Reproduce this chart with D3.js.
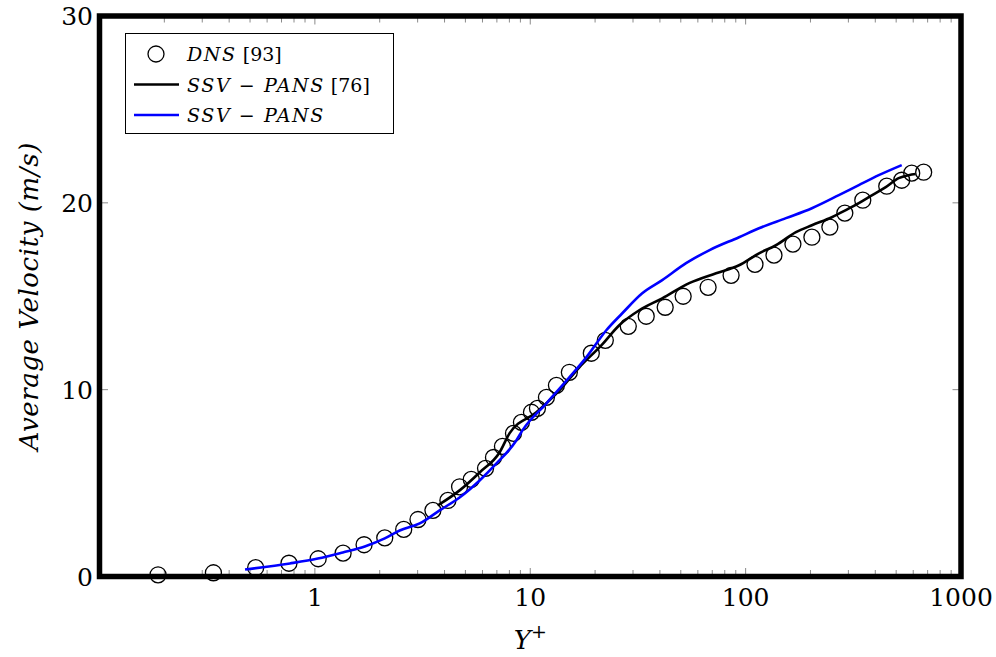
<!DOCTYPE html>
<html>
<head>
<meta charset="utf-8">
<script src="https://cdn.jsdelivr.net/npm/d3@7"></script>
<style>
    body { margin: 0; background: #fff; }
</style>
</head>
<body>
<script>

// DNS [93] points (Y+, U)
let dnsY = [0.187, 0.338, 0.531, 0.758, 1.036, 1.352, 1.692, 2.111, 2.585, 3.011, 3.533, 4.147, 4.698, 5.322,
            6.20, 6.75, 7.43, 8.36, 9.10, 10.13, 10.80, 11.89, 13.23, 15.19, 19.21, 22.31, 28.52, 34.55, 42.32,
            51.28, 66.95, 85.6, 110.5, 135.4, 165.8, 203.1, 246.1, 288.8, 349.9, 452.1, 530.6, 590.4, 670.9]
let dnsU = [0.09, 0.2, 0.47, 0.71, 0.95, 1.25, 1.70, 2.07, 2.52, 3.05, 3.54, 4.07, 4.8, 5.2,
            5.79, 6.37, 6.96, 7.66, 8.25, 8.79, 9.0, 9.59, 10.23, 10.93, 11.95, 12.64, 13.39, 13.93, 14.41,
            15.0, 15.48, 16.12, 16.71, 17.2, 17.79, 18.16, 18.70, 19.45, 20.14, 20.89, 21.21, 21.59, 21.64]

// SSV-PANS [76]
let refY = [3.715, 4.70, 5.82, 7.20, 8.01, 10.68, 13.66, 16.90, 21.38, 25.9, 32.07, 41.0, 54.7, 72.9, 93.2,
            115.4, 138.3, 171.2, 203.1, 251.4, 292.0, 335.4, 373.0, 447.3, 513.6, 571.8, 616.2]
let refU = [3.80, 4.61, 5.57, 6.64, 7.66, 8.79, 9.96, 11.20, 12.37, 13.45, 14.25, 14.89, 15.70, 16.23, 16.66,
            17.30, 17.73, 18.43, 18.80, 19.23, 19.61, 19.98, 20.30, 20.84, 21.32, 21.48, 21.54]

// SSV-PANS (present)
let pansY = [0.474, 0.766, 1.032, 1.348, 1.705, 2.111, 2.477, 3.066, 3.795, 4.698, 5.82, 6.97, 8.63, 9.20,
             11.89, 15.19, 18.21, 22.55, 26.75, 33.11, 41.0, 52.9, 67.7, 93.2, 115.4, 153.9, 203.1, 270.9,
             335.4, 415.1, 530.6]
let pansU = [0.375, 0.70, 0.96, 1.29, 1.61, 2.04, 2.46, 2.84, 3.54, 4.23, 5.14, 6.05, 7.29, 7.82,
             9.27, 10.66, 11.73, 13.18, 14.09, 15.16, 15.86, 16.77, 17.46, 18.16, 18.64, 19.18, 19.71, 20.41,
             20.95, 21.48, 22.02]

let xTicks = [1, 10, 100, 1000]
let yTicks = [0, 10, 20, 30]

let W = 996, H = 657
let m = {left: 99.5, right: 961, top: 16, bottom: 576.5}
let serif = "'DejaVu Serif', 'Liberation Serif', serif"

let svg = d3.select("body")
            .append("svg")
                .attr("width", W)
                .attr("height", H)
                .style("font-family", serif)

let x = d3.scaleLog().domain([0.1, 1000]).range([m.left, m.right])
let y = d3.scaleLinear().domain([0, 30]).range([m.bottom, m.top])

// minor ticks of the log axis
let minor = []
for (let e = -1; e < 3; e++) {
    for (let k = 2; k < 10; k++) minor.push(k * Math.pow(10, e))
}

let ticks = svg.append("g").attr("stroke", "#8a8a8a").attr("stroke-width", 1)

ticks.selectAll(".minB").data(minor).enter().append("line")
        .attr("x1", d => x(d)).attr("x2", d => x(d))
        .attr("y1", m.bottom).attr("y2", m.bottom - 6.5)
ticks.selectAll(".minT").data(minor).enter().append("line")
        .attr("x1", d => x(d)).attr("x2", d => x(d))
        .attr("y1", m.top).attr("y2", m.top + 6.5)
ticks.selectAll(".majB").data(xTicks).enter().append("line")
        .attr("x1", d => x(d)).attr("x2", d => x(d))
        .attr("y1", m.bottom).attr("y2", m.bottom - 8.5)
ticks.selectAll(".majT").data(xTicks).enter().append("line")
        .attr("x1", d => x(d)).attr("x2", d => x(d))
        .attr("y1", m.top).attr("y2", m.top + 8.5)
ticks.selectAll(".yL").data(yTicks).enter().append("line")
        .attr("x1", m.left).attr("x2", m.left + 8.5)
        .attr("y1", d => y(d)).attr("y2", d => y(d))
ticks.selectAll(".yR").data(yTicks).enter().append("line")
        .attr("x1", m.right).attr("x2", m.right - 8.5)
        .attr("y1", d => y(d)).attr("y2", d => y(d))

// data
let dns = dnsY.map((d, i) => [d, dnsU[i]])
let ref = refY.map((d, i) => [d, refU[i]])
let pans = pansY.map((d, i) => [d, pansU[i]])

let line = d3.line()
            .x(d => x(d[0]))
            .y(d => y(d[1]))
            .curve(d3.curveMonotoneX)

svg.append("g").selectAll("circle")
        .data(dns)
        .enter()
        .append("circle")
            .attr("cx", d => x(d[0]))
            .attr("cy", d => y(d[1]))
            .attr("r", 8)
            .attr("fill", "none")
            .attr("stroke", "#000")
            .attr("stroke-width", 1.3)

svg.append("path")
        .datum(ref)
        .attr("d", line)
        .attr("fill", "none")
        .attr("stroke", "#000")
        .attr("stroke-width", 2.6)

svg.append("path")
        .datum(pans)
        .attr("d", line)
        .attr("fill", "none")
        .attr("stroke", "#0000ff")
        .attr("stroke-width", 2.6)

// frame
svg.append("rect")
        .attr("x", m.left).attr("y", m.top)
        .attr("width", m.right - m.left)
        .attr("height", m.bottom - m.top)
        .attr("fill", "none")
        .attr("stroke", "#000")
        .attr("stroke-width", 5.5)

// tick labels
svg.selectAll(".xl").data(xTicks).enter().append("text")
        .attr("x", d => x(d))
        .attr("y", 606)
        .attr("text-anchor", "middle")
        .attr("font-size", 25)
        .text(d => d)

svg.selectAll(".yl").data(yTicks).enter().append("text")
        .attr("x", 93)
        .attr("y", d => y(d) + 9)
        .attr("text-anchor", "end")
        .attr("font-size", 25)
        .text(d => d)

// axis titles
let xt = svg.append("text")
        .attr("x", (m.left + m.right) / 2)
        .attr("y", 649)
        .attr("text-anchor", "middle")
        .attr("font-size", 26)
xt.append("tspan").attr("font-style", "italic").text("Y")
xt.append("tspan").attr("font-size", 19).attr("dy", -11).text("+")

svg.append("text")
        .attr("transform", "translate(38," + ((m.top + m.bottom) / 2) + ") rotate(-90)")
        .attr("text-anchor", "middle")
        .attr("font-size", 26)
        .attr("font-style", "italic")
        .attr("letter-spacing", 0.6)
        .text("Average Velocity (m/s)")

// legend
let lg = svg.append("g")

lg.append("rect")
        .attr("x", 125.5).attr("y", 33.5)
        .attr("width", 268).attr("height", 100)
        .attr("fill", "#fff")
        .attr("stroke", "#000")
        .attr("stroke-width", 1)

let entries = [
    {name: "DNS", ref: " [93]", kind: "circle", color: "#000"},
    {name: "SSV \u2212 PANS", ref: " [76]", kind: "line", color: "#000"},
    {name: "SSV \u2212 PANS", ref: "", kind: "line", color: "#0000ff"}
]

let row = lg.selectAll(".row")
        .data(entries)
        .enter()
        .append("g")
            .attr("transform", (d, i) => "translate(0," + (54 + i * 30.5) + ")")

row.filter(d => d.kind == "circle").append("circle")
        .attr("cx", 156).attr("cy", 0).attr("r", 8)
        .attr("fill", "none").attr("stroke", "#000").attr("stroke-width", 1.3)

row.filter(d => d.kind == "line").append("line")
        .attr("x1", 134).attr("x2", 179)
        .attr("y1", 0).attr("y2", 0)
        .attr("stroke", d => d.color)
        .attr("stroke-width", 2.6)

let lt = row.append("text")
        .attr("x", 187)
        .attr("y", 7)
        .attr("font-size", 19)
lt.append("tspan").attr("font-style", "italic").attr("letter-spacing", 1.6).text(d => d.name)
lt.append("tspan").text(d => d.ref)

</script>
</body>
</html>
